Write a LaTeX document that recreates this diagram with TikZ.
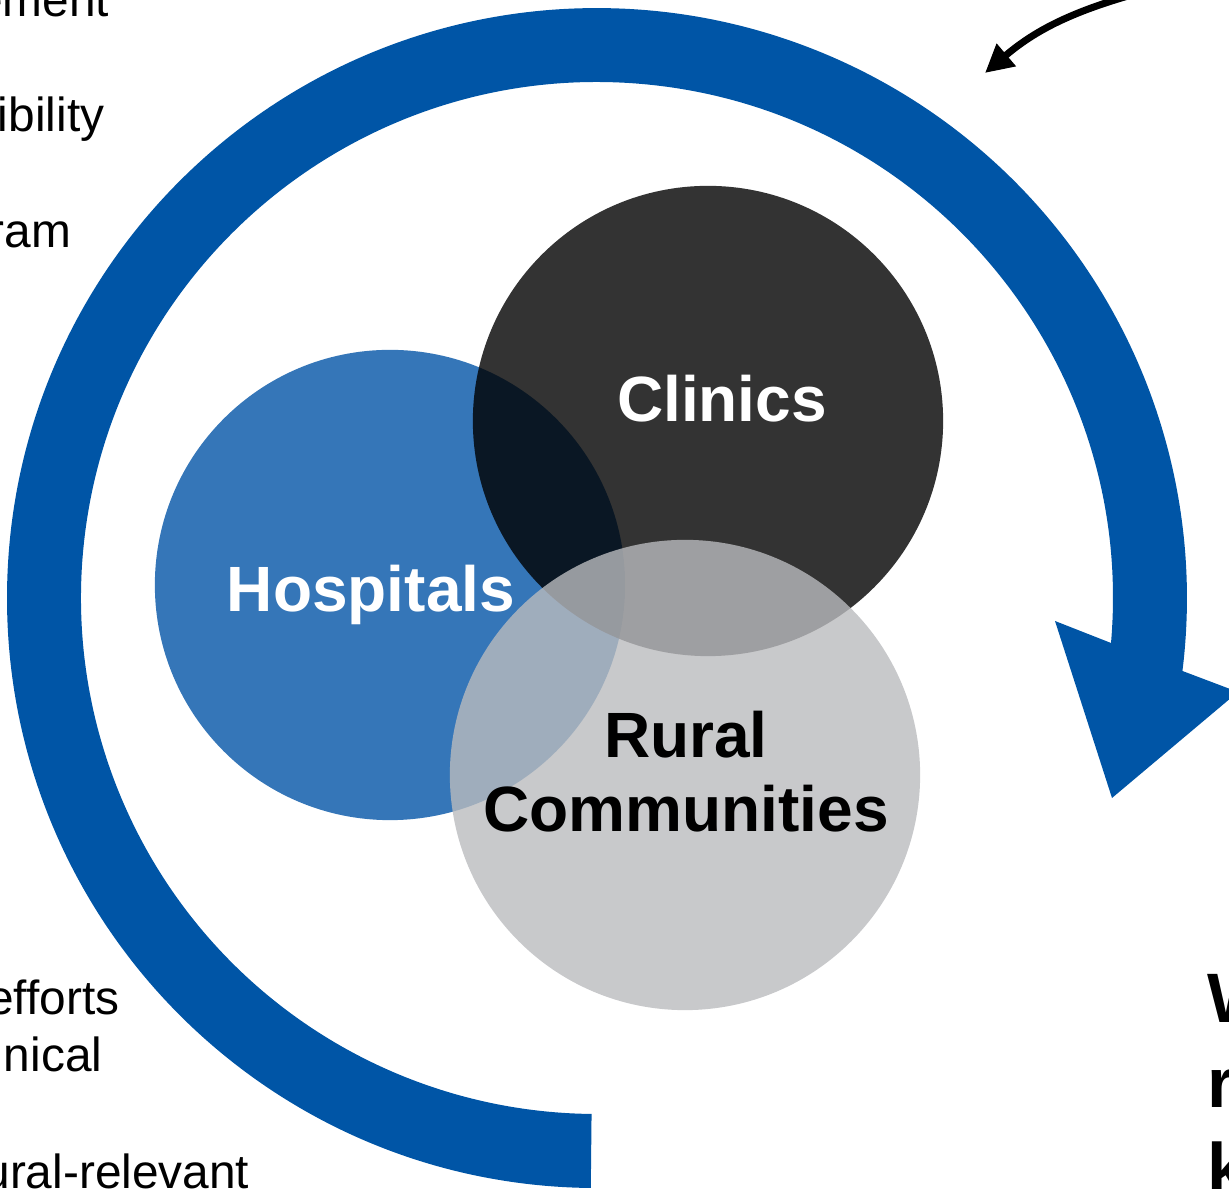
\documentclass[tikz,border=0pt]{standalone}
\usepackage{fontspec}
\setmainfont{Liberation Sans}
\usetikzlibrary{arrows.meta}
\definecolor{ringblue}{RGB}{0,85,166}
\definecolor{hospblue}{RGB}{53,118,184}
\definecolor{ruralgrey}{RGB}{186,187,190}
\begin{document}
\begin{tikzpicture}[x=0.01cm,y=-0.01cm,
  venn/.style={circle, draw=none, minimum size=4.7cm, inner sep=0pt},
  lbl/.style={font=\bfseries\fontsize{18.2pt}{21.3pt}\selectfont, inner sep=0pt, anchor=base, align=center},
  side/.style={font=\fontsize{13.6pt}{16.3pt}\selectfont, inner sep=0pt, anchor=base east, text=black},
  big/.style={font=\bfseries\fontsize{19.9pt}{24.2pt}\selectfont, inner sep=0pt, anchor=base west, align=left}]
\useasboundingbox (0,0) rectangle (1229,1189);
\clip (0,0) rectangle (1229,1189);
% blue circular arrow
\fill[ringblue] (590.8,1188) arc[start angle=90.6,end angle=367.1,radius=590]
  -- (1238,692) -- (1112,798) -- (1055,621) -- (1111,643)
  arc[start angle=365,end angle=90.6,radius=516] -- cycle;
% Venn circles
\node[venn, fill=hospblue] (hosp) at (390,585) {};
\node[venn, fill=black, fill opacity=0.8] (clin) at (708,421) {};
\node[venn, fill=ruralgrey, fill opacity=0.8] (rural) at (685,775) {};
% labels
\node[lbl, text=white] (hosplbl) at (371,612) {Hospitals};
\node[lbl, text=white] (clinlbl) at (722,422) {Clinics};
\node[lbl, text=black] (rurallbl) at (686,832) {Rural\\Communities};
% cropped side texts
\node[side] (t1) at (110,17) {ement};
\node[side] (t2) at (105,132) {ibility};
\node[side] (t3) at (72,248) {ram};
\node[side] (t4) at (120,1015) {efforts};
\node[side] (t5) at (103,1072) {nical};
\node[side] (t6) at (250,1189) {ural-relevant};
\node[big] (t7) at (1207,1193) {W\\r\\k};
% black arrow
\coordinate (astart) at (1128,-4);
\coordinate (aend) at (985,73);
\draw[line width=0.07cm, -{Triangle[length=0.28cm,width=0.28cm]}] (astart) to[bend right=12] (aend);
\end{tikzpicture}
\end{document}
